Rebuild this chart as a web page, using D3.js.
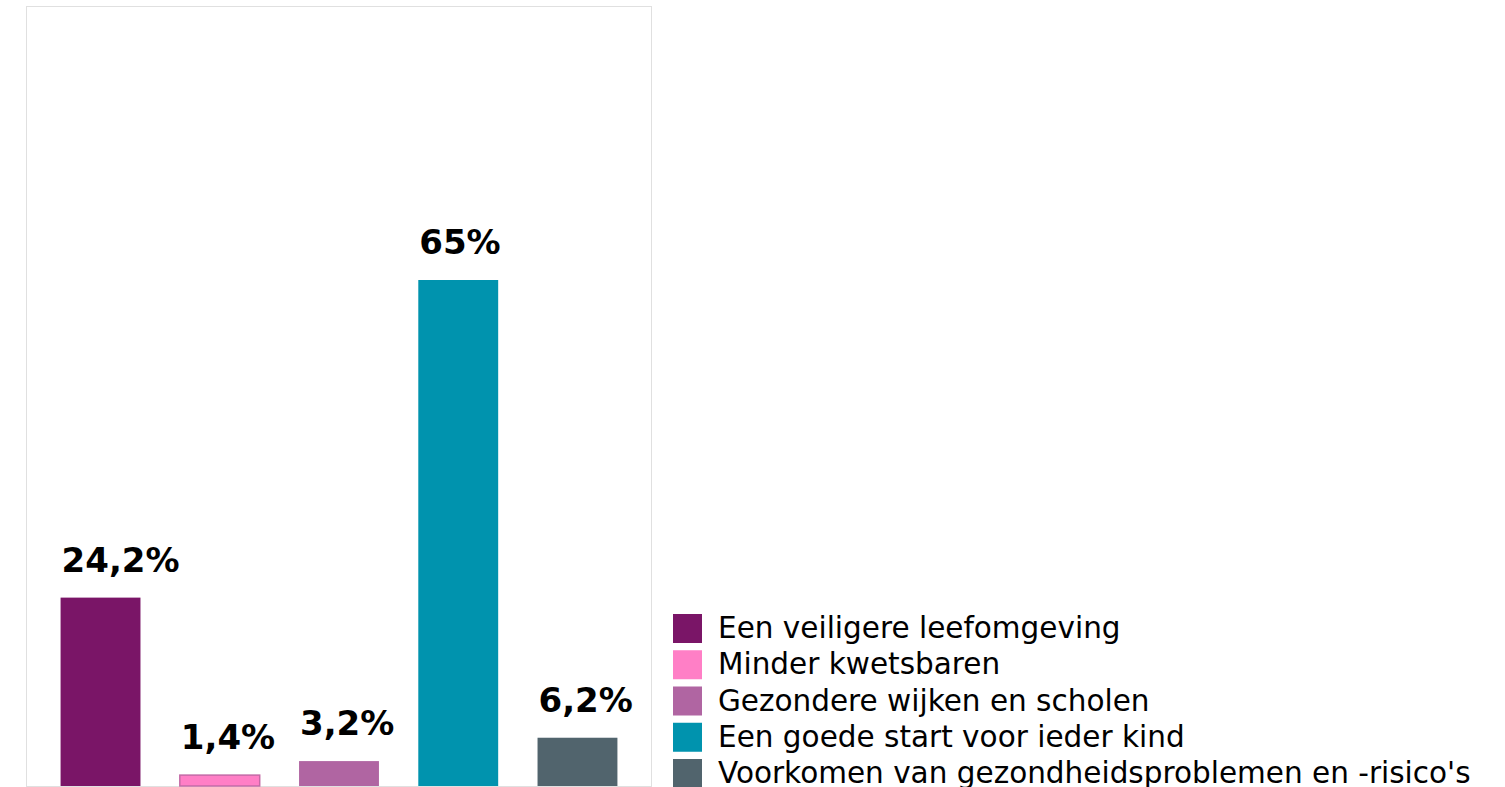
<!DOCTYPE html>
<html>
<head>
<meta charset="utf-8">
<script src="https://cdn.jsdelivr.net/npm/d3@7"></script>
<style>
  body { margin: 0; background: #fff; }
  text { font-family: "DejaVu Sans", Verdana, sans-serif; }
</style>
</head>
<body>
<div id="chart"></div>
<script>
// categories, values and colours
var categories = ["Een veiligere leefomgeving", "Minder kwetsbaren", "Gezondere wijken en scholen",
  "Een goede start voor ieder kind", "Voorkomen van gezondheidsproblemen en -risico's"];
var values = [24.2, 1.4, 3.2, 65, 6.2];
var valueLabels = ["24,2%", "1,4%", "3,2%", "65%", "6,2%"];
var colors = ["#7a1567", "#ff7fc6", "#b065a2", "#0093ae", "#51646d"];

let width = 1505;
let height = 787;

let svg = d3.select('#chart')
  .append('svg')
  .attr('width', width)
  .attr('height', height);

// plot box
let plot = { left: 26, right: 652, top: 6, bottom: 786 };

svg.append('rect')
  .attr('x', plot.left + 0.5)
  .attr('y', plot.top + 0.5)
  .attr('width', plot.right - plot.left - 1)
  .attr('height', plot.bottom - plot.top)
  .attr('fill', '#fff')
  .attr('stroke', '#e0e0e0');

let x = d3.scaleBand()
  .domain(categories)
  .range([plot.left, plot.right])
  .paddingInner(0.33)
  .paddingOuter(0.29);

let y = d3.scaleLinear()
  .domain([0, 65])
  .range([plot.bottom, 280]);

svg.selectAll('.bar')
  .data(values)
  .enter()
  .append('rect')
  .attr('class', 'bar')
  .attr('x', (d, i) => x(categories[i]))
  .attr('y', d => y(d))
  .attr('width', x.bandwidth())
  .attr('height', d => y(0) - y(d))
  .attr('fill', (d, i) => colors[i])
  .attr('stroke', (d, i) => i == 1 ? '#c46aa6' : 'none')
  .attr('stroke-width', 1.5);

// value labels start at the left edge of the bar
svg.selectAll('.label')
  .data(values)
  .enter()
  .append('text')
  .attr('class', 'label')
  .attr('x', (d, i) => x(categories[i]) + 1)
  .attr('y', d => y(d) - 26)
  .attr('text-anchor', 'start')
  .style('font-size', '34px')
  .style('font-weight', 'bold')
  .attr('fill', '#000')
  .text((d, i) => valueLabels[i]);

/** legend */
let legend = svg.selectAll('.legend')
  .data(categories)
  .enter()
  .append('g')
  .attr('class', 'legend')
  .attr('transform', (d, i) => `translate(673, ${614 + i * 36.25})`);

legend.append('rect')
  .attr('width', 29)
  .attr('height', 29)
  .attr('fill', (d, i) => colors[i]);

legend.append('text')
  .attr('x', 45)
  .attr('y', 24)
  .style('font-size', '29.5px')
  .attr('fill', '#000')
  .text(d => d);
</script>
</body>
</html>
